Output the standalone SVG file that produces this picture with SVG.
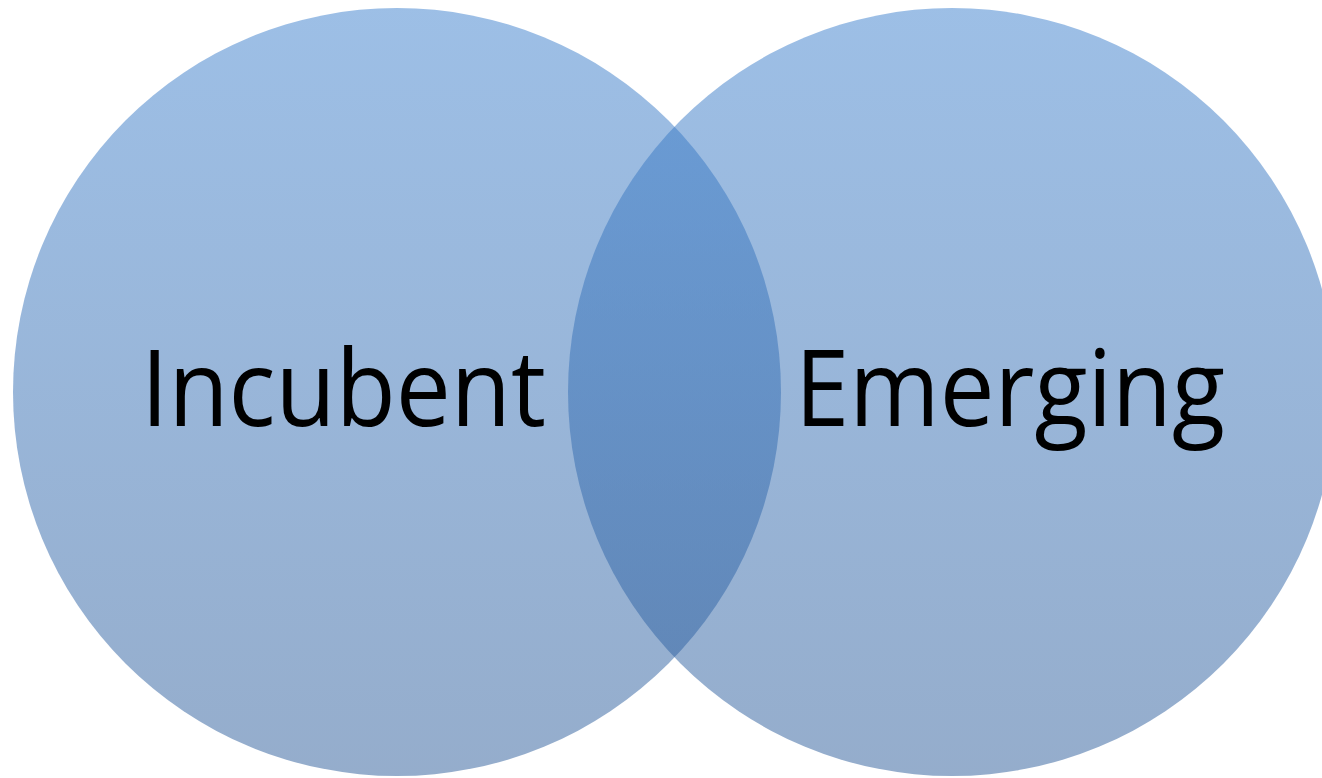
<svg xmlns="http://www.w3.org/2000/svg" width="1322" height="778" viewBox="0 0 1322 778">
  <defs>
    <linearGradient id="g" x1="0" y1="0" x2="0" y2="1">
      <stop offset="0" stop-color="rgb(59,127,205)"/>
      <stop offset="1" stop-color="rgb(43,91,153)"/>
    </linearGradient>
    <style>
      .c { fill: url(#g); fill-opacity: 0.5; }
      .t { font-family: "Open Sans", "Liberation Sans", sans-serif; font-size: 106px; fill: #000; }
    </style>
  </defs>
  <rect width="1322" height="778" fill="#fff"/>
  <g id="incubent">
    <circle class="c" cx="397" cy="392" r="384"/>
    <text class="t" x="141" y="426" textLength="405" lengthAdjust="spacingAndGlyphs">Incubent</text>
  </g>
  <g id="emerging">
    <circle class="c" cx="952" cy="392" r="384"/>
    <text class="t" x="795" y="426" textLength="430" lengthAdjust="spacingAndGlyphs">Emerging</text>
  </g>
  <g id="connectors"/>
</svg>
